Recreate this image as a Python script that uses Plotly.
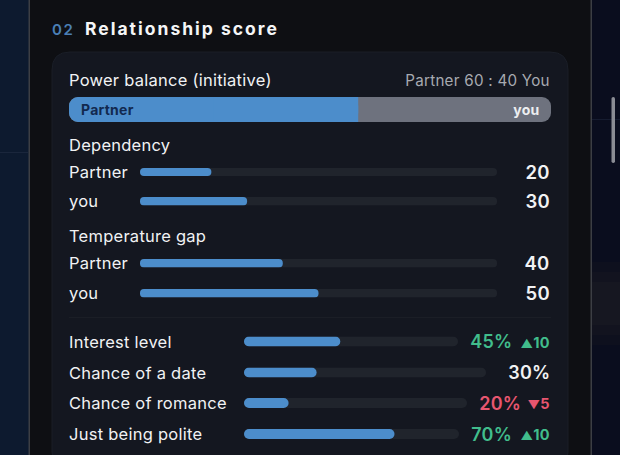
"""Relationship score card, drawn as Plotly bars on one small axis per row."""
import plotly.graph_objects as go

W, H = 620, 455

# data
power_sides = ["Partner", "you"]
power_values = [60, 40]

pair_groups = ["Dependency", "Temperature gap"]
pair_labels = ["Partner", "you", "Partner", "you"]
pair_values = [20, 30, 40, 50]

score_labels = ["Interest level", "Chance of a date", "Chance of romance", "Just being polite"]
score_values = [45, 30, 20, 70]
score_delta_marks = ["▲", "", "▼", "▲"]
score_deltas = ["10", "", "5", "10"]

BLUE = "#4c8dcb"
GREY = "#6e727e"
TRACK = "#20242c"
CARD = "#141720"
PANEL = "#0e0f13"
WHITE = "#f1f2f4"
GREEN = "#41bd8c"
RED = "#e8566f"
FONT = "Inter"

# row geometry in pixels: left, right, top, bottom
pair_rows = [(140, 497, 168, 176), (140, 497, 197, 205.5), (140, 497, 259, 267.5), (140, 497, 289, 297.5)]
score_rows = [(244, 458, 336.5, 346.5), (244, 486, 367.5, 377.5), (244, 467, 398, 408), (244, 459, 429, 439)]
power_row = (69, 551, 97, 122)
# right edge of the percent text, it sits left of the delta
score_text_right = [512, 550, 521, 512]


def px(x):
    return x / W


def py(y):
    return 1 - y / H


def rounded_path(x0, y0, x1, y1, r):
    k = r / W
    m = r / H
    a, b, c, d = px(x0), py(y0), px(x1), py(y1)
    return (
        f"M{a + k},{b} L{c - k},{b} Q{c},{b} {c},{b - m} "
        f"L{c},{d + m} Q{c},{d} {c - k},{d} L{a + k},{d} "
        f"Q{a},{d} {a},{d + m} L{a},{b - m} Q{a},{b} {a + k},{b} Z"
    )


fig = go.Figure()
axis_count = 0


def add_axis(row):
    """Give a row its own 0-100 axis placed on its pixel box."""
    global axis_count
    axis_count += 1
    suffix = "" if axis_count == 1 else str(axis_count)
    left, right, top, bottom = row
    fig.layout["xaxis" + suffix] = dict(
        domain=[px(left), px(right)], range=[0, 100], visible=False,
        anchor="y" + suffix, fixedrange=True,
    )
    fig.layout["yaxis" + suffix] = dict(
        domain=[py(bottom), py(top)], range=[-0.5, 0.5], visible=False,
        anchor="x" + suffix, fixedrange=True,
    )
    return "x" + suffix, "y" + suffix


def add_segment(x, y, start, length, color, radius):
    # an explicit base makes plotly round both ends of the bar
    fig.add_trace(go.Bar(
        x=[length], y=[0], base=[start], orientation="h", width=1, xaxis=x, yaxis=y,
        marker=dict(color=color, line_width=0, cornerradius=radius),
        hoverinfo="skip", showlegend=False,
    ))


def add_bar(row, value, height):
    x, y = add_axis(row)
    r = height / 2
    add_segment(x, y, 0, 100, TRACK, r)
    add_segment(x, y, 0, value, BLUE, r)


def label(x, y, text, size=16.5, color=WHITE, anchor="left", weight=400):
    fig.add_annotation(
        x=px(x), y=py(y), xref="paper", yref="paper", text=text, showarrow=False,
        xanchor=anchor, yanchor="middle", borderpad=0, borderwidth=0,
        font=dict(family=FONT, size=size, color=color, weight=weight),
    )


# power balance: grey full length, blue over it, square piece for the blue's right end
x, y = add_axis(power_row)
add_segment(x, y, 0, sum(power_values), GREY, 9)
add_segment(x, y, 0, power_values[0], BLUE, 9)
add_segment(x, y, power_values[0] / 2, power_values[0] / 2, BLUE, 0)

for row, val in zip(pair_rows, pair_values):
    add_bar(row, val, row[3] - row[2])
for row, val in zip(score_rows, score_values):
    add_bar(row, val, row[3] - row[2])

# header
label(52, 30, "02", size=15, color="#4a7fb5", weight=600)
label(85, 29, "Relationship score", size=17.5, color="#f5f6f7", weight=700)

# power text
label(69, 80, "Power balance (initiative)")
label(550, 80, f"Partner {power_values[0]} : {power_values[1]} You", size=15.2, color="#a7aab0", anchor="right")
label(81, 109.5, power_sides[0], size=14, color="#12294f", weight=700)
label(539, 109.5, power_sides[1], size=14, color="#eceef0", anchor="right", weight=700)

# pair rows
label(69, 144.5, pair_groups[0])
label(69, 236, pair_groups[1])
for row, name, val in zip(pair_rows, pair_labels, pair_values):
    mid = (row[2] + row[3]) / 2
    label(69, mid, name)
    label(550, mid, str(val), size=18.5, anchor="right", weight=600)

# score rows
for i, name in enumerate(score_labels):
    row = score_rows[i]
    mid = (row[2] + row[3]) / 2
    mark, delta = score_delta_marks[i], score_deltas[i]
    label(69, mid, name)
    color = GREEN if mark == "▲" else RED if mark == "▼" else WHITE
    if delta:
        text = f'<span style="font-size:12px">{mark}</span>{delta}'
        label(550, mid + 0.5, text, size=14.5, color=color, anchor="right", weight=700)
    label(score_text_right[i], mid, f"{score_values[i]}%", size=18, color=color, anchor="right", weight=600)


def rect(x0, y0, x1, y1, color):
    return dict(type="rect", xref="paper", yref="paper", x0=px(x0), x1=px(x1), y0=py(y1), y1=py(y0),
                fillcolor=color, line_width=0, layer="below")


shapes = [
    rect(0, 0, 28, 455, "#0d1a2f"),
    rect(0, 152, 28, 153, "#1a263c"),
    rect(592, 0, 620, 455, "#0a0d1e"),
    rect(592, 119, 620, 120, "#161c30"),
    rect(592, 262, 620, 345, "#0e101e"),
    rect(592, 272, 620, 335, "#12131f"),
    rect(592, 282, 620, 325, "#161721"),
    rect(29, 0, 591, 455, PANEL),
    rect(28.5, 0, 30, 455, "#3c3e44"),
    rect(590.5, 0, 592, 455, "#3c3e44"),
    dict(type="path", xref="paper", yref="paper", path=rounded_path(52, 52, 568, 470, 18),
         fillcolor=CARD, line=dict(color="#1a1e27", width=1), layer="below"),
    dict(type="path", xref="paper", yref="paper", path=rounded_path(611.5, 97, 615, 163, 1.7),
         fillcolor="#8a8c94", line_width=0, layer="below"),
    rect(69, 317, 551, 318, "#1b1e26"),
]

fig.update_layout(
    width=W, height=H, margin=dict(l=0, r=0, t=0, b=0), autosize=False,
    paper_bgcolor="#0d1a2f", plot_bgcolor="rgba(0,0,0,0)", barmode="overlay",
    showlegend=False, shapes=shapes,
)

# body margin off, and the tracking the card's type has; text is re-anchored
# first so the spacing grows away from the edge it is aligned on
post = """
document.body.style.margin = '0';
var gd = document.querySelector('.plotly-graph-div');
document.querySelectorAll('.annotation').forEach(function (a) {
  var i = +a.getAttribute('data-index');
  var t = a.querySelector('text');
  var box = t.getBBox();
  var right = gd.layout.annotations[i].xanchor === 'right';
  t.setAttribute('x', right ? box.x + box.width : box.x);
  t.style.textAnchor = right ? 'end' : 'start';
  t.setAttribute('text-anchor', right ? 'end' : 'start');
  t.style.letterSpacing = i === 0 ? '1.6px' : i === 1 ? '2px' : '0.25px';
});
"""
fig.write_html("out.html", post_script=post, config=dict(displayModeBar=False))
